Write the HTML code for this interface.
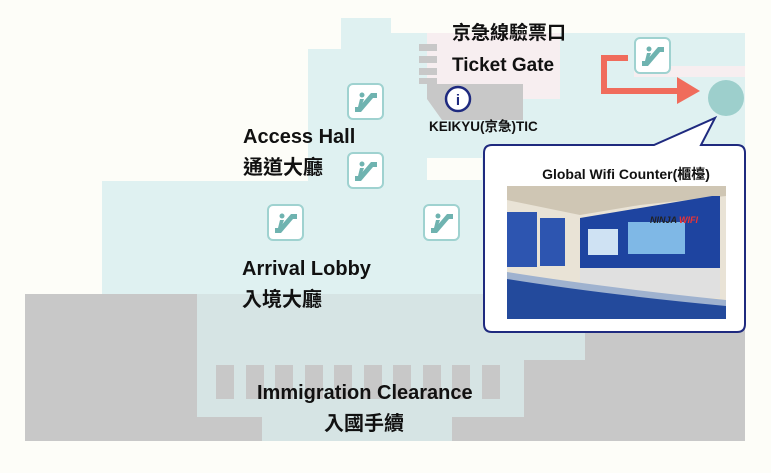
<!DOCTYPE html>
<html><head><meta charset="utf-8"><style>
html,body{margin:0;padding:0;background:#fdfdf8;}
svg{display:block}
text{font-family:"Liberation Sans","Noto Sans CJK TC",sans-serif;font-weight:bold;fill:#111}
</style></head><body>
<svg width="771" height="473" viewBox="0 0 771 473" xmlns="http://www.w3.org/2000/svg">
<defs>
<g id="esc">
<rect x="1" y="1" width="35" height="35" rx="5" fill="#fff" stroke="#9fd2d0" stroke-width="2"/>
<path d="M8 29 L14 29 L26 15 L30 15 L30 10 L24 10 L12 24 L8 24 Z" fill="#6fb3b0"/>
<circle cx="15" cy="12" r="2.5" fill="#6fb3b0"/>
<path d="M13 16 L17 16 L14 24 L11 24 Z" fill="#6fb3b0"/>
</g>
</defs>
<rect width="771" height="473" fill="#fdfdf8"/>
<g fill="#dff1f1">
<rect x="341" y="18" width="50" height="40"/>
<rect x="308" y="49" width="437" height="132"/>
<rect x="391" y="33" width="354" height="20"/>
<rect x="102" y="181" width="400" height="113"/>
<rect x="308" y="181" width="177" height="113"/>
</g>
<rect x="427" y="158" width="55" height="22" fill="#fdfdf8"/>
<rect x="427" y="33" width="133" height="66" fill="#f7eef0"/>
<rect x="634" y="66" width="111" height="11" fill="#f7eef0"/>
<g fill="#c8c8c8">
<rect x="419" y="44" width="18" height="7"/>
<rect x="419" y="56" width="18" height="7"/>
<rect x="419" y="68" width="18" height="7"/>
<rect x="419" y="78" width="18" height="6"/>
<path d="M427 84 L523 84 L523 120 L442 120 L427 99 Z"/>
</g>
<rect x="25" y="294" width="720" height="147" fill="#c8c8c8"/>
<path d="M197 294 L585 294 L585 360 L524 360 L524 417 L452 417 L452 441 L262 441 L262 417 L197 417 Z" fill="#d6e4e4"/>
<g fill="#c8c8c8">
<rect x="216" y="365" width="18" height="34"/><rect x="246" y="365" width="18" height="34"/><rect x="275" y="365" width="18" height="34"/><rect x="305" y="365" width="18" height="34"/><rect x="334" y="365" width="18" height="34"/><rect x="364" y="365" width="18" height="34"/><rect x="393" y="365" width="18" height="34"/><rect x="423" y="365" width="18" height="34"/><rect x="452" y="365" width="18" height="34"/><rect x="482" y="365" width="18" height="34"/>
</g>
<use href="#esc" x="347" y="83"/>
<use href="#esc" x="347" y="152"/>
<use href="#esc" x="267" y="204"/>
<use href="#esc" x="423" y="204"/>
<use href="#esc" x="634" y="37"/>
<circle cx="458" cy="99" r="12" fill="#fff" stroke="#1f2a7f" stroke-width="2.5"/>
<text x="458" y="105" font-size="15" text-anchor="middle" style="fill:#1f2a7f">i</text>
<path d="M628 58 L604 58 L604 91 L680 91" fill="none" stroke="#f06c5c" stroke-width="6"/>
<path d="M677 77 L700 91 L677 104 Z" fill="#f06c5c"/>
<circle cx="726" cy="98" r="18" fill="#9dcfcc"/>
<path d="M494 145 L654 145 L715 118 L701 145 L737 145 Q745 145 745 153 L745 324 Q745 332 737 332 L492 332 Q484 332 484 324 L484 153 Q484 145 492 145 Z" fill="#fff" stroke="#1f2a7f" stroke-width="2"/>
<text x="626" y="179" font-size="14" text-anchor="middle">Global Wifi Counter(櫃檯)</text>
<g>
<rect x="507" y="186" width="219" height="133" fill="#e9e3d6"/>
<path d="M507 186 L726 186 L726 196 L640 205 L580 215 L507 200 Z" fill="#cfc6b4"/>
<path d="M580 218 L712 196 L720 196 L720 268 L580 268 Z" fill="#1e44a0"/>
<rect x="507" y="212" width="30" height="55" fill="#2d55b0"/>
<rect x="540" y="218" width="25" height="48" fill="#2d55b0"/>
<rect x="588" y="229" width="30" height="26" fill="#cfe2f3"/>
<rect x="628" y="222" width="57" height="32" fill="#7fb8e6"/>
<text x="650" y="223" font-size="9" style="fill:#222;font-style:italic">NINJA</text>
<text x="679" y="223" font-size="9" style="fill:#e33;font-style:italic">WIFI</text>
<rect x="580" y="268" width="140" height="30" fill="#e0e0e0"/>
<path d="M507 275 Q600 290 726 305 L726 319 L507 319 Z" fill="#234a9c"/>
<path d="M507 272 Q600 287 726 300 L726 306 Q600 294 507 279 Z" fill="#9fb2cf"/>
</g>
<text x="452" y="39" font-size="19">京急線驗票口</text>
<text x="452" y="71" font-size="19">Ticket Gate</text>
<text x="429" y="131" font-size="13.5">KEIKYU(京急)TIC</text>
<text x="243" y="143" font-size="20">Access Hall</text>
<text x="243" y="174" font-size="20">通道大廳</text>
<text x="242" y="275" font-size="20">Arrival Lobby</text>
<text x="242" y="306" font-size="20">入境大廳</text>
<text x="257" y="399" font-size="20">Immigration Clearance</text>
<text x="324" y="430" font-size="20">入國手續</text>
</svg>
</body></html>
